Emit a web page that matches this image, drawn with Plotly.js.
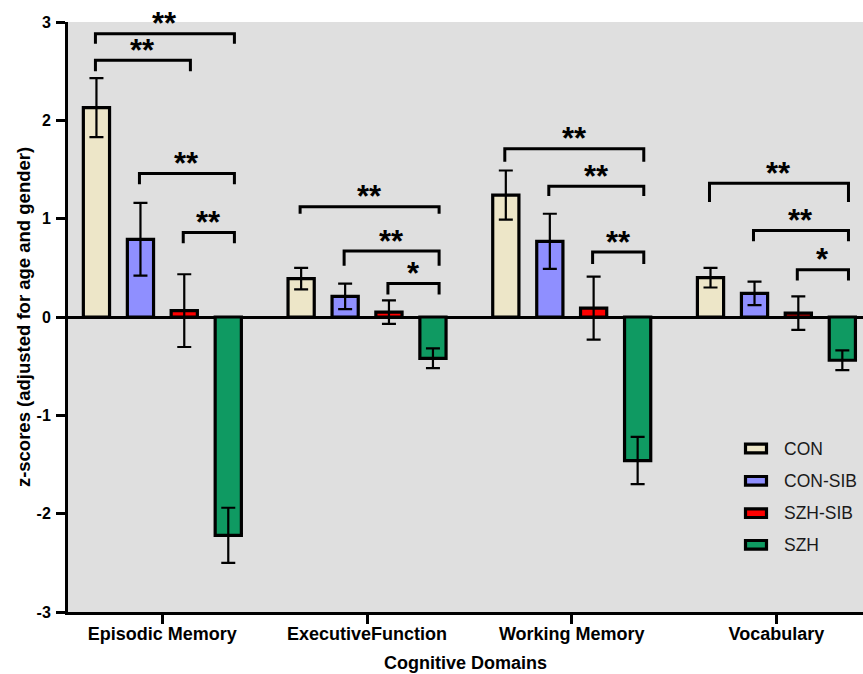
<!DOCTYPE html>
<html>
<head>
<meta charset="utf-8">
<script src="https://cdn.plot.ly/plotly-3.0.1.min.js"></script>
<style>
  html, body { margin: 0; padding: 0; background: #ffffff; }
  #chart { width: 863px; height: 674px; }
</style>
</head>
<body>
<div id="chart"></div>
<script>
// ---------------- data ----------------
const categories = ['Episodic Memory', 'ExecutiveFunction', 'Working Memory', 'Vocabulary'];
const groupNames = ['CON', 'CON-SIB', 'SZH-SIB', 'SZH'];

const conValues    = [2.13, 0.39, 1.24, 0.40];
const conErrors    = [0.30, 0.11, 0.25, 0.10];
const conSibValues = [0.79, 0.21, 0.77, 0.24];
const conSibErrors = [0.37, 0.13, 0.28, 0.12];
const szhSibValues = [0.065, 0.05, 0.09, 0.04];
const szhSibErrors = [0.37, 0.12, 0.32, 0.17];
const szhValues    = [-2.22, -0.42, -1.46, -0.44];
const szhErrors    = [0.28, 0.10, 0.24, 0.10];

const yTickValues = [-3, -2, -1, 0, 1, 2, 3];
const yTickLabels = ['-3', '-2', '-1', '0', '1', '2', '3'];

// significance brackets: category index, from-group, to-group, bar height, leg ends, label
const bracketCat   = [0, 0, 0, 0, 1, 1, 1, 2, 2, 2, 3, 3, 3];
const bracketFrom  = [0, 0, 1, 2, 0, 1, 2, 0, 1, 2, 0, 1, 2];
const bracketTo    = [3, 2, 3, 3, 3, 3, 3, 3, 3, 3, 3, 3, 3];
const bracketY     = [2.88, 2.61, 1.46, 0.86, 1.12, 0.67, 0.34, 1.71, 1.33, 0.66, 1.36, 0.88, 0.48];
const bracketLegY  = [2.78, 2.50, 1.35, 0.75, 1.05, 0.52, 0.23, 1.58, 1.23, 0.54, 1.17, 0.77, 0.37];
const bracketLabel = ['**', '**', '**', '**', '**', '**', '*', '**', '**', '**', '**', '**', '*'];

// ---------------- style ----------------
const groupValues = [conValues, conSibValues, szhSibValues, szhValues];
const groupErrors = [conErrors, conSibErrors, szhSibErrors, szhErrors];
const groupColors = ['#ede6c8', '#8f8fff', '#ff0000', '#0f9a62'];
const groupCenters = [-0.322, -0.107, 0.107, 0.322];
const barWidth = 0.128;
const FONT = '"Liberation Sans", Arial, Helvetica, sans-serif';

const W = 863, H = 674;
const M = { l: 68, r: 0, t: 22, b: 62 };
const plotW = W - M.l - M.r, plotH = H - M.t - M.b;
const px2x = px => (px - M.l) / plotW;
const px2y = py => (H - M.b - py) / plotH;

const xIdx = categories.map((_, i) => i);

const traces = groupNames.map((name, g) => ({
  type: 'bar',
  name: name,
  x: xIdx,
  y: groupValues[g],
  width: barWidth,
  offset: groupCenters[g] - barWidth / 2,
  marker: { color: groupColors[g], line: { color: '#000000', width: 3.2 } },
  error_y: { type: 'data', array: groupErrors[g], visible: true, color: '#000000', thickness: 2.2, width: 7 },
  showlegend: false,
  hoverinfo: 'y'
}));

const shapes = [];
const annotations = [];

bracketCat.forEach((c, i) => {
  const x0 = c + groupCenters[bracketFrom[i]] - 0.005;
  const x1 = c + groupCenters[bracketTo[i]] + 0.03;
  const y = bracketY[i], yl = bracketLegY[i];
  shapes.push({
    type: 'path', xref: 'x', yref: 'y',
    path: `M ${x0} ${yl} L ${x0} ${y} L ${x1} ${y} L ${x1} ${yl}`,
    line: { color: '#000000', width: 3 }
  });
  annotations.push({
    xref: 'x', yref: 'y', x: (x0 + x1) / 2, y: y,
    text: bracketLabel[i], showarrow: false,
    xanchor: 'center', yanchor: 'middle', yshift: 10,
    font: { family: FONT, size: 31, color: '#000000', weight: 'bold' }
  });
});

// custom legend (swatch + label), placed in the lower right of the plot
const legendRowsPx = [448.5, 480.8, 513.2, 544.8];
groupNames.forEach((name, g) => {
  const cy = legendRowsPx[g];
  shapes.push({
    type: 'rect', xref: 'paper', yref: 'paper',
    x0: px2x(745.5), x1: px2x(766.5), y0: px2y(cy + 4.3), y1: px2y(cy - 4.3),
    fillcolor: groupColors[g], line: { color: '#000000', width: 3.2 }
  });
  annotations.push({
    xref: 'paper', yref: 'paper', x: px2x(782), y: px2y(cy),
    text: name, showarrow: false, xanchor: 'left', yanchor: 'middle',
    font: { family: FONT, size: 17.5, color: '#1a1a1a' }
  });
});

const layout = {
  width: W, height: H,
  margin: M,
  paper_bgcolor: '#ffffff',
  plot_bgcolor: '#dfdfdf',
  barmode: 'overlay',
  showlegend: false,
  font: { family: FONT, color: '#000000' },
  xaxis: {
    range: [-0.461, 3.423],
    tickvals: xIdx,
    ticktext: categories,
    ticks: 'outside', ticklen: 9, tickwidth: 3, tickcolor: '#000000',
    ticklabelstandoff: -6,
    showline: true, linewidth: 3, linecolor: '#000000',
    showgrid: false, zeroline: false,
    tickfont: { family: FONT, size: 18, color: '#000000', weight: 'bold' },
    title: { text: 'Cognitive Domains', standoff: 14,
             font: { family: FONT, size: 18, color: '#000000', weight: 'bold' } },
    fixedrange: true
  },
  yaxis: {
    range: [-3, 3],
    tickvals: yTickValues,
    ticktext: yTickLabels,
    ticks: 'outside', ticklen: 9, tickwidth: 3, tickcolor: '#000000',
    ticklabelstandoff: 2,
    showline: true, linewidth: 3, linecolor: '#000000',
    showgrid: false,
    zeroline: true, zerolinecolor: '#000000', zerolinewidth: 3,
    tickfont: { family: FONT, size: 16, color: '#000000', weight: 'bold' },
    title: { text: 'z-scores (adjusted for age and gender)', standoff: 2,
             font: { family: FONT, size: 18.5, color: '#000000', weight: 'bold' } },
    fixedrange: true
  },
  shapes: shapes,
  annotations: annotations
};

Plotly.newPlot('chart', traces, layout, { displayModeBar: false, staticPlot: true });
</script>
</body>
</html>
